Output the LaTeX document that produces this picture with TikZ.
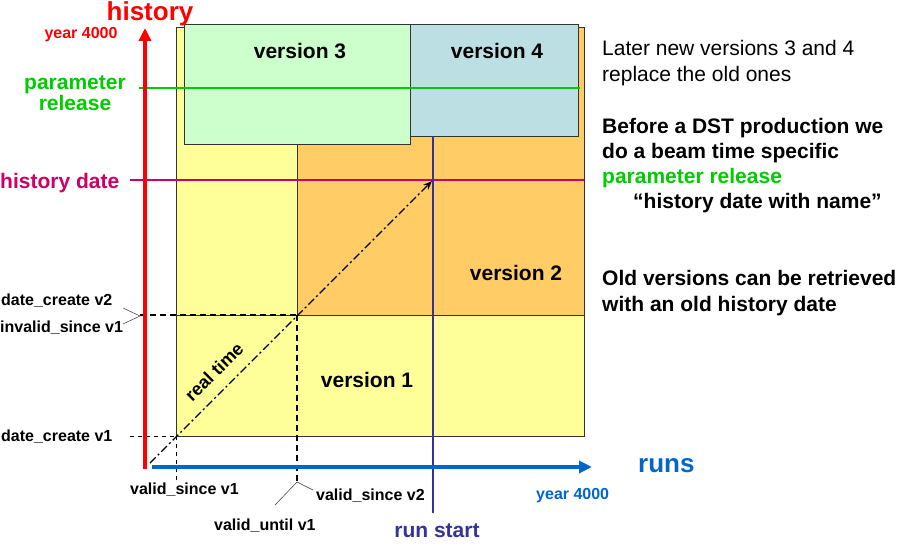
\documentclass[tikz,border=0pt]{standalone}
\usepackage{fontspec}
\setmainfont{Liberation Sans}
\usetikzlibrary{arrows.meta}
\definecolor{cyel}{HTML}{FFFF99}
\definecolor{corg}{HTML}{FFCC66}
\definecolor{cv3}{HTML}{CCFFCC}
\definecolor{cv4}{HTML}{BBDFE2}
\definecolor{cred}{HTML}{FF0000}
\definecolor{cgreen}{HTML}{00CC00}
\definecolor{cmag}{HTML}{CC0066}
\definecolor{cblue}{HTML}{0066CC}
\definecolor{cnavy}{HTML}{333399}
\tikzset{
  lbl/.style={inner sep=0pt, font=\fontsize{16}{18}\selectfont\bfseries},
  biglbl/.style={inner sep=0pt, font=\fontsize{21}{19}\selectfont\bfseries},
  hugelbl/.style={inner sep=0pt, font=\fontsize{26}{30}\selectfont\bfseries},
  vers/.style={inner sep=0pt, font=\fontsize{21}{24}\selectfont\bfseries},
  para/.style={inner sep=0pt, align=left, anchor=west},
  box/.style={draw=black!80, line width=1pt},
  callout/.style={draw=black!80, line width=0.5pt},
  dsh/.style={dash pattern=on 6pt off 4pt, line width=1.2pt},
  thindsh/.style={dash pattern=on 4pt off 4pt, line width=0.6pt}
}
\begin{document}
\begin{tikzpicture}[x=1pt,y=-1pt]
\path[use as bounding box, fill=white] (0,0) rectangle (909,559);
% base regions
\draw[box, fill=cyel] (176,28) rectangle (584,436);
\draw[box, fill=corg] (297,28) rectangle (584,315);
\draw[box] (176,315) -- (297,315);
% new versions
\node[box, fill=cv3, minimum width=226pt, minimum height=120pt, anchor=north west] (v3box) at (184,24) {};
\node[box, fill=cv4, minimum width=168pt, minimum height=112pt, anchor=north west] (v4box) at (410,24) {};
\node[vers] (v1) at (367,380) {version 1};
\node[vers] (v2) at (516,273) {version 2};
\node[vers] (v3) at (300,51) {version 3};
\node[vers] (v4) at (497,51) {version 4};
% coordinates
\coordinate (orig) at (150,463);
\coordinate (pA) at (176,436);
\coordinate (pB) at (297,315);
\coordinate (pC) at (432,181);
% parameter release line
\draw[cgreen, line width=2.5pt] (139,88) coordinate (gl) -- (580,88) coordinate (gr);
% history date line
\draw[cmag, line width=2.5pt] (130,180) coordinate (ml) -- (584,180) coordinate (mr);
% run start line
\draw[cnavy, line width=2.5pt] (433,136) coordinate (rs1) -- (433,513) coordinate (rs2);
% dashed guides
\draw[dsh] (140,315) coordinate (dl) -- (pB);
\draw[dsh] (pB) -- (297,481) coordinate (db);
\draw[thindsh] (130,436) coordinate (dl1) -- (pA);
\draw[thindsh] (pA) -- (176,480) coordinate (db1);
% real time diagonal
\draw[line width=1.4pt, dash pattern=on 8pt off 3pt on 2pt off 3pt, -{Stealth[length=9pt,width=7pt]}] (orig) -- (pC);
\node[inner sep=0pt, rotate=45, font=\fontsize{18}{20}\selectfont\bfseries] (rt) at (214,372) {real time};
% axes
\draw[cred, line width=4pt, -{Triangle[length=13pt,width=12pt]}] (145,469) coordinate (yb) -- (145,28) coordinate (yt);
\draw[cblue, line width=4pt, -{Triangle[length=13pt,width=12pt]}] (152,467) coordinate (xb) -- (592,467) coordinate (xt);
% callouts
\draw[callout] (123,308) -- (140,316) -- (123,324);
\draw[callout] (275,505) -- (297,482) -- (313,490);
% axis labels
\node[hugelbl, text=cred, anchor=base] (hist) at (150,21) {history};
\node[lbl, text=cred] (y4a) at (81,35) {year 4000};
\node[biglbl, text=cgreen, align=center] (pr) at (75,93) {parameter\\release};
\node[biglbl, text=cmag, anchor=west] (hd) at (0,183) {history date};
\node[lbl, anchor=west] (dc2) at (1,301) {date\_create v2};
\node[lbl, anchor=west] (iv1) at (0,328) {invalid\_since v1};
\node[lbl, anchor=west] (dc1) at (1,437) {date\_create v1};
\node[lbl, anchor=west] (vs1) at (130,490) {valid\_since v1};
\node[lbl, anchor=west] (vu1) at (214,526) {valid\_until v1};
\node[lbl, anchor=west] (vs2) at (316,496) {valid\_since v2};
\node[lbl, text=cblue, anchor=west] (y4b) at (536,496) {year 4000};
\node[hugelbl, text=cblue, anchor=west] (runs) at (638,466) {runs};
\node[biglbl, text=cnavy] (rstart) at (437,531) {run start};
% explanations
\node[para, font=\fontsize{21}{26}\selectfont] (t1) at (602,63) {Later new versions 3 and 4\\replace the old ones};
\node[para, font=\fontsize{21}{25}\selectfont\bfseries] (t2) at (602,166) {Before a DST production we\\do a beam time specific\\\textcolor{cgreen}{parameter release}\\\hspace*{31pt}“history date with name”};
\node[para, font=\fontsize{21}{26}\selectfont\bfseries] (t3) at (602,293) {Old versions can be retrieved\\with an old history date};
\end{tikzpicture}
\end{document}
